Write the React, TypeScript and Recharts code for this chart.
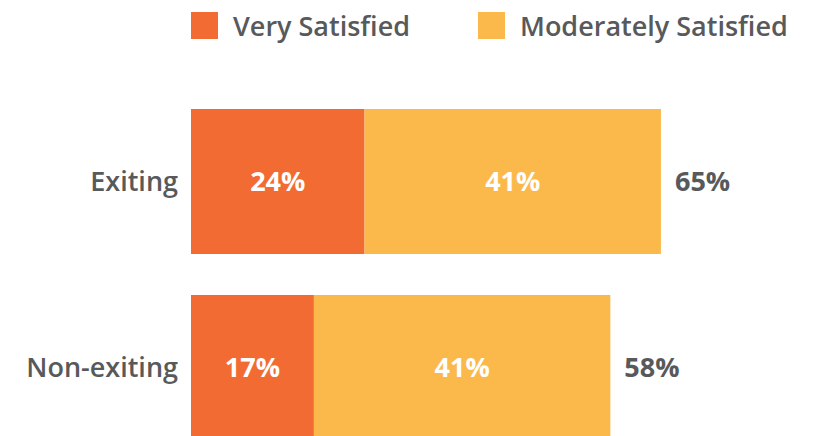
import { BarChart, Bar, XAxis, YAxis, Legend, LabelList } from 'recharts';

const categories = ['Exiting', 'Non-exiting'];
const verySatisfied = [24, 17];
const moderatelySatisfied = [41, 41];
const totals = [65, 58];

const seriesNames = ['Very Satisfied', 'Moderately Satisfied'];
const seriesColors = ['#F26B33', '#FCB94B'];

const FONT = '"Open Sans", sans-serif';
const GRAY = '#58595B';

const data = categories.map((name, i) => ({
    name,
    very: verySatisfied[i],
    moderate: moderatelySatisfied[i],
    total: totals[i],
}));

const renderLegend = () => (
    <div style={{ position: 'relative', height: 50, fontFamily: FONT }}>
        {seriesNames.map((label, i) => (
            <div
                key={label}
                style={{
                    position: 'absolute',
                    left: i === 0 ? 191 : 478,
                    top: 12,
                    display: 'flex',
                    alignItems: 'center',
                }}
            >
                <span style={{ width: 27, height: 27, background: seriesColors[i], display: 'inline-block' }} />
                <span style={{ marginLeft: 15, fontSize: 27, fontWeight: 600, color: GRAY, lineHeight: '27px' }}>
                    {label}
                </span>
            </div>
        ))}
    </div>
);

export default function App() {
    return (
        <div style={{ width: 820, height: 436, overflow: 'hidden', position: 'relative' }}>
            <style>{'body{margin:0}'}</style>
            <BarChart
                width={820}
                height={460}
                data={data}
                layout="vertical"
                margin={{ top: 88, right: 0, bottom: 0, left: 0 }}
            >
                <XAxis type="number" domain={[0, 87]} hide />
                <YAxis
                    type="category"
                    dataKey="name"
                    width={191}
                    axisLine={false}
                    tickLine={false}
                    tickSize={0}
                    tickMargin={13}
                    tick={{ fill: GRAY, fontSize: 27, fontWeight: 600, fontFamily: FONT }}
                />
                <Legend
                    content={renderLegend}
                    verticalAlign="middle"
                    align="center"
                    wrapperStyle={{ top: 0, left: 0, width: 820 }}
                />
                <Bar dataKey="very" stackId="a" fill={seriesColors[0]} name={seriesNames[0]} barSize={145} isAnimationActive={false}>
                    <LabelList
                        dataKey="very"
                        position="center"
                        formatter={(v: any) => `${v}%`}
                        style={{ fill: '#fff', fontSize: 27, fontWeight: 700, fontFamily: FONT }}
                    />
                </Bar>
                <Bar dataKey="moderate" stackId="a" fill={seriesColors[1]} name={seriesNames[1]} barSize={145} isAnimationActive={false}>
                    <LabelList
                        dataKey="moderate"
                        position="center"
                        formatter={(v: any) => `${v}%`}
                        style={{ fill: '#fff', fontSize: 27, fontWeight: 700, fontFamily: FONT }}
                    />
                    <LabelList
                        dataKey="total"
                        position="right"
                        offset={14}
                        formatter={(v: any) => `${v}%`}
                        style={{ fill: GRAY, fontSize: 27, fontWeight: 700, fontFamily: FONT }}
                    />
                </Bar>
            </BarChart>
        </div>
    );
}
